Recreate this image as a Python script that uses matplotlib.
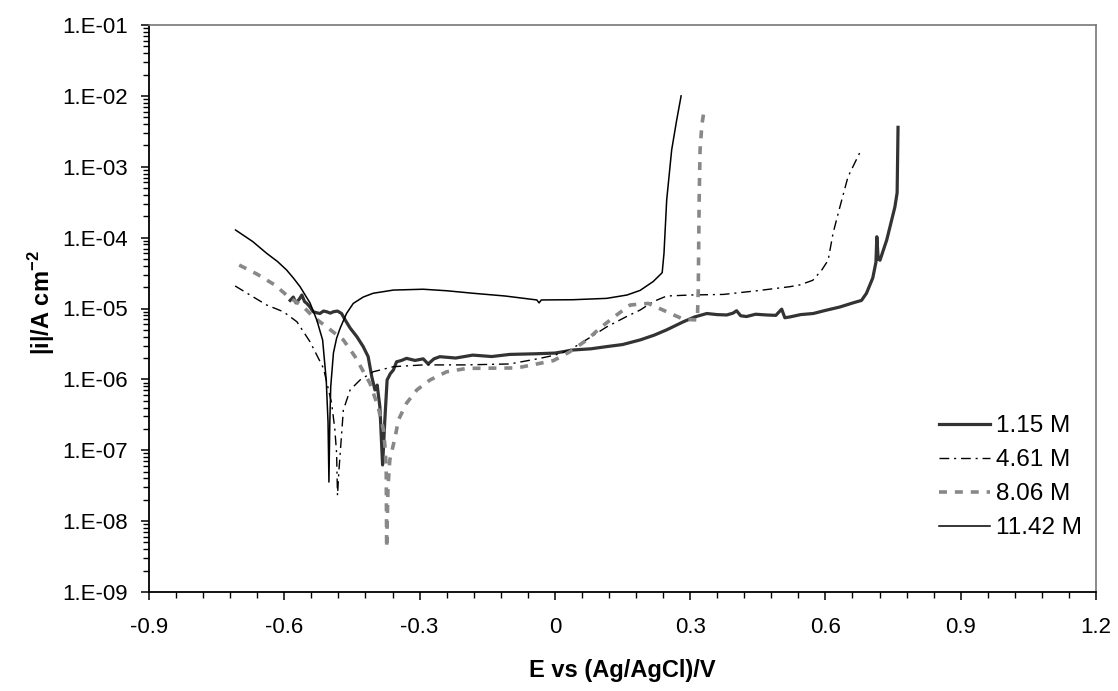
import numpy as np
import matplotlib
matplotlib.use("Agg")
import matplotlib.pyplot as plt
from matplotlib.ticker import FuncFormatter, MultipleLocator, LogLocator, NullFormatter

plt.rcParams["font.family"] = ["Liberation Sans", "DejaVu Sans"]
plt.rcParams["mathtext.fontset"] = "custom"
plt.rcParams["mathtext.bf"] = "Liberation Sans:bold"
plt.rcParams["mathtext.rm"] = "Liberation Sans"

# curvas de polarização (E em V vs Ag/AgCl, |i| em A cm-2)
E_115 = [-0.587, -0.580, -0.574, -0.567, -0.561, -0.555, -0.550, -0.543, -0.536, -0.528,
         -0.521, -0.513, -0.506, -0.498, -0.491, -0.482, -0.473, -0.465, -0.454, -0.439,
         -0.425, -0.414, -0.406, -0.399, -0.394, -0.388, -0.382, -0.377, -0.372, -0.365,
         -0.358, -0.351, -0.340, -0.329, -0.310, -0.292, -0.281, -0.268, -0.255, -0.220,
         -0.182, -0.140, -0.100, -0.040, 0.000, 0.041, 0.080, 0.115, 0.150, 0.189, 0.220,
         0.248, 0.285, 0.310, 0.337, 0.360, 0.381, 0.395, 0.403, 0.412, 0.425, 0.445, 0.470,
         0.490, 0.503, 0.510, 0.521, 0.545, 0.573, 0.600, 0.632, 0.661, 0.680, 0.691, 0.705,
         0.712, 0.714, 0.717, 0.721, 0.736, 0.754, 0.759, 0.761]
i_115 = [1.30e-5, 1.45e-5, 1.20e-5, 1.35e-5, 1.55e-5, 1.25e-5, 1.18e-5, 1.05e-5, 9.0e-6, 8.7e-6,
         8.5e-6, 9.2e-6, 9.0e-6, 8.6e-6, 9.0e-6, 9.2e-6, 8.5e-6, 6.9e-6, 5.3e-6, 4.0e-6,
         2.9e-6, 2.09e-6, 1.09e-6, 7.1e-7, 8.3e-7, 4.1e-7, 6.2e-8, 2.7e-7, 9.8e-7, 1.2e-6,
         1.36e-6, 1.77e-6, 1.85e-6, 1.98e-6, 1.85e-6, 1.95e-6, 1.65e-6, 1.95e-6, 2.09e-6, 2.0e-6,
         2.2e-6, 2.1e-6, 2.25e-6, 2.3e-6, 2.35e-6, 2.6e-6, 2.7e-6, 2.9e-6, 3.1e-6, 3.6e-6, 4.2e-6,
         5.0e-6, 6.5e-6, 7.6e-6, 8.5e-6, 8.2e-6, 8.1e-6, 8.6e-6, 9.3e-6, 7.9e-6, 7.7e-6, 8.3e-6, 8.1e-6,
         8.0e-6, 9.8e-6, 7.4e-6, 7.6e-6, 8.2e-6, 8.5e-6, 9.4e-6, 1.05e-5, 1.2e-5, 1.3e-5, 1.64e-5, 2.7e-5,
         4.5e-5, 1.03e-4, 5.0e-5, 4.8e-5, 9.3e-5, 2.7e-4, 4.3e-4, 3.6e-3]

E_461 = [-0.709, -0.676, -0.639, -0.602, -0.572, -0.543, -0.513, -0.495, -0.488, -0.484,
         -0.482, -0.479, -0.476, -0.469, -0.454, -0.432, -0.403, -0.358, -0.292, -0.200,
         -0.100, -0.033, 0.000, 0.033, 0.063, 0.115, 0.159, 0.189, 0.218, 0.248, 0.300, 0.374,
         0.448, 0.521, 0.543, 0.572, 0.592, 0.606, 0.617, 0.632, 0.650, 0.679]
i_461 = [2.08e-5, 1.55e-5, 1.12e-5, 9.0e-6, 6.5e-6, 3.4e-6, 1.43e-6, 4.6e-7, 2.0e-7, 9.1e-8,
         2.3e-8, 5.0e-8, 9.1e-8, 3.7e-7, 7.1e-7, 9.8e-7, 1.28e-6, 1.51e-6, 1.6e-6, 1.6e-6,
         1.65e-6, 1.98e-6, 2.2e-6, 2.6e-6, 3.4e-6, 5.5e-6, 7.7e-6, 9.5e-6, 1.25e-5, 1.5e-5, 1.55e-5, 1.58e-5,
         1.78e-5, 2.03e-5, 2.15e-5, 2.5e-5, 3.5e-5, 4.8e-5, 1.16e-4, 2.7e-4, 7.2e-4, 1.72e-3]

E_806 = [-0.700, -0.661, -0.621, -0.591, -0.558, -0.536, -0.506, -0.469, -0.443, -0.410,
         -0.392, -0.380, -0.376, -0.374, -0.373, -0.370, -0.366, -0.354, -0.347, -0.329,
         -0.306, -0.277, -0.240, -0.195, -0.084, -0.003, 0.033, 0.071, 0.100, 0.137, 0.167,
         0.207, 0.248, 0.285, 0.316, 0.318, 0.320, 0.322, 0.326, 0.331]
i_806 = [4.1e-5, 3.07e-5, 2.15e-5, 1.47e-5, 1.06e-5, 7.65e-6, 5.5e-6, 3.6e-6, 2.09e-6, 8.8e-7,
         4.1e-7, 1.93e-7, 1.0e-7, 5.2e-8, 4.2e-9, 3.0e-8, 7.3e-8, 1.55e-7, 2.67e-7, 4.6e-7,
         7.1e-7, 9.8e-7, 1.28e-6, 1.43e-6, 1.45e-6, 1.84e-6, 2.45e-6, 3.6e-6, 5.3e-6, 8.1e-6, 1.12e-5,
         1.18e-5, 9.0e-6, 7.05e-6, 6.9e-6, 1.82e-5, 3.4e-4, 1.72e-3, 3.9e-3, 6.3e-3]

E_1142 = [-0.708, -0.670, -0.639, -0.615, -0.595, -0.580, -0.565, -0.543, -0.528, -0.515,
          -0.507, -0.503, -0.501, -0.499, -0.497, -0.491, -0.484, -0.476, -0.462, -0.447,
          -0.425, -0.403, -0.358, -0.292, -0.240, -0.181, -0.110, -0.040, -0.035, -0.030,
          0.040, 0.115, 0.160, 0.189, 0.218, 0.238, 0.242, 0.248, 0.259, 0.270, 0.280]
i_1142 = [1.28e-4, 8.8e-5, 6.0e-5, 4.6e-5, 3.5e-5, 2.7e-5, 2.03e-5, 1.2e-5, 6.9e-6, 3.6e-6,
          9.8e-7, 2.5e-7, 3.56e-8, 2.5e-7, 7.9e-7, 2.36e-6, 3.8e-6, 5.3e-6, 8.5e-6, 1.18e-5,
          1.45e-5, 1.64e-5, 1.82e-5, 1.87e-5, 1.78e-5, 1.64e-5, 1.5e-5, 1.32e-5, 1.2e-5, 1.32e-5,
          1.33e-5, 1.39e-5, 1.55e-5, 1.8e-5, 2.4e-5, 3.2e-5, 6.0e-5, 3.4e-4, 1.72e-3, 4.5e-3, 1.0e-2]

labels = ["1.15 M", "4.61 M", "8.06 M", "11.42 M"]

fig = plt.figure(figsize=(11.18, 6.91), dpi=100)
ax = fig.add_axes([149 / 1118, 99 / 691, 947 / 1118, 567 / 691])

ax.plot(E_115, i_115, color="#333333", lw=2.3, label=labels[0])
ax.plot(E_461, i_461, color="black", lw=1.0, dashes=(7, 3.5, 1.5, 3.5), label=labels[1])
ax.plot(E_806, i_806, color="#888888", lw=2.6, dashes=(2.2, 2.2), label=labels[2])
ax.plot(E_1142, i_1142, color="black", lw=1.1, label=labels[3])

ax.set_yscale("log")
ax.set_xlim(-0.9, 1.2)
ax.set_ylim(1e-9, 1e-1)

ax.xaxis.set_major_locator(MultipleLocator(0.3))
ax.xaxis.set_minor_locator(MultipleLocator(0.06))
ax.xaxis.set_major_formatter(FuncFormatter(lambda v, p: "0" if abs(v) < 1e-9 else "%.1f" % v))
ax.yaxis.set_major_locator(LogLocator(base=10, numticks=20))
ax.yaxis.set_minor_locator(LogLocator(base=10, subs=np.arange(2, 10), numticks=20))
ax.yaxis.set_minor_formatter(NullFormatter())
ax.yaxis.set_major_formatter(FuncFormatter(lambda v, p: "1.E-%02d" % round(-np.log10(v))))

ax.tick_params(which="major", direction="out", length=6, width=1.1, labelsize=16)
ax.tick_params(which="minor", direction="out", length=4, width=1.0)
ax.tick_params(axis="x", which="major", pad=12)
ax.tick_params(axis="y", which="major", pad=9)
ax.tick_params(top=False, right=False, which="both")

for s in ["left", "bottom"]:
    ax.spines[s].set_linewidth(1.3)
    ax.spines[s].set_color("black")
for s in ["top", "right"]:
    ax.spines[s].set_linewidth(1.2)
    ax.spines[s].set_color("#777777")

ax.set_xlabel("E vs (Ag/AgCl)/V", fontsize=17, fontweight="bold")
ax.xaxis.set_label_coords(0.5, -0.118)
ax.set_ylabel("|i|/A cm$^{\\mathbf{-2}}$", fontsize=17, fontweight="bold")
ax.yaxis.set_label_coords(-0.097, 0.51)

ax.legend(loc="lower right", bbox_to_anchor=(0.985, 0.093), frameon=False, fontsize=17.5,
          handlelength=2.1, handletextpad=0.22, labelspacing=0.49, borderpad=0, borderaxespad=0)

plt.savefig("out.png", dpi=100)
